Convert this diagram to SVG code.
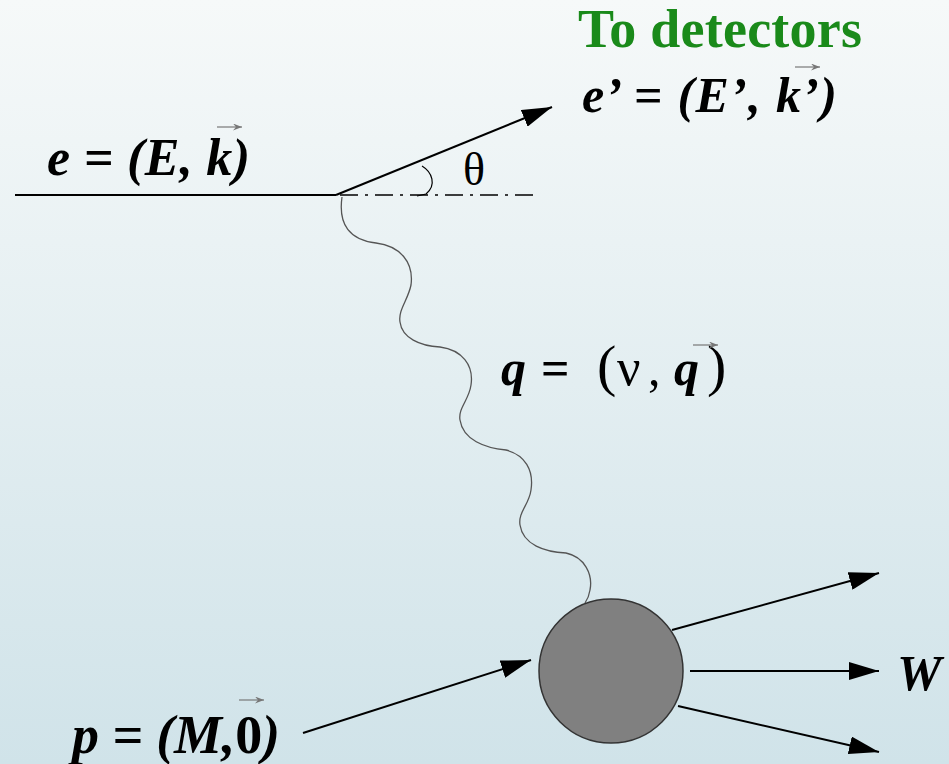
<svg xmlns="http://www.w3.org/2000/svg" width="949" height="764" viewBox="0 0 949 764">
<defs>
<linearGradient id="bg" x1="0" y1="0" x2="0" y2="1">
<stop offset="0" stop-color="#f6f9f9"/>
<stop offset="1" stop-color="#d0e3e9"/>
</linearGradient>
<marker id="big" viewBox="0 0 30 18" refX="30" refY="9" markerWidth="30" markerHeight="18" orient="auto" markerUnits="userSpaceOnUse">
<path d="M0,0 L30,9 L0,18 z" fill="#000"/>
</marker>
<marker id="vec" viewBox="0 0 9 7" refX="9" refY="3.5" markerWidth="9" markerHeight="7" orient="auto" markerUnits="userSpaceOnUse">
<path d="M0,0 L9,3.5 L0,7 L3,3.5 z" fill="#777"/>
</marker>
</defs>
<style>
text{font-family:"Liberation Serif","Times New Roman",Times,serif}
.lbl{font-weight:bold;font-style:italic;fill:#000}
.up{font-style:normal;font-weight:normal}
.line{stroke:#000;fill:none;stroke-width:2}
.vec{stroke:#777;stroke-width:1.2;fill:none}
</style>
<rect width="949" height="764" fill="url(#bg)"/>

<g id="connectors">
<line class="line" x1="15" y1="195" x2="336" y2="195"/>
<line x1="340" y1="195" x2="535" y2="195" stroke="#000" stroke-width="1.3" stroke-dasharray="18,7,3,7"/>
<line class="line" x1="336" y1="195" x2="552" y2="107" marker-end="url(#big)"/>
<path d="M422,166 C432,172 437,185 426,194 L417,196" fill="none" stroke="#000" stroke-width="1.2"/>
<path d="M342,197 C338,225 350,240 376,243 C400,246 414,262 411,285 C408,300 398,310 400,322 C402,338 420,346 440,347 C462,350 474,365 471,385 C469,400 458,408 460,420 C463,440 485,448 506,450 C525,455 534,470 531,490 C529,505 518,512 520,525 C523,545 545,552 566,553 C585,557 593,575 590,590 C589,597 587,600 585,603" fill="none" stroke="#555" stroke-width="1.3"/>
<line class="line" x1="303" y1="733" x2="531" y2="660" marker-end="url(#big)"/>
<line class="line" x1="672" y1="630" x2="879" y2="573" marker-end="url(#big)"/>
<line class="line" x1="690" y1="671" x2="879" y2="671" marker-end="url(#big)"/>
<line class="line" x1="678" y1="706" x2="879" y2="752" marker-end="url(#big)"/>
</g>

<g id="blob">
<circle cx="611" cy="671" r="72" fill="#808080" stroke="#333" stroke-width="1.5"/>
</g>

<g id="title">
<text x="578" y="47" font-weight="bold" font-size="54" fill="#1a8a1a" textLength="284">To detectors</text>
</g>

<g id="e-in">
<text class="lbl" x="47" y="175" font-size="52" textLength="203">e = (E, k)</text>
<line class="vec" x1="217" y1="127" x2="242" y2="127" marker-end="url(#vec)"/>
</g>

<g id="e-out">
<text class="lbl" x="582" y="112" font-size="50" textLength="255">e’ = (E’, k’)</text>
<line class="vec" x1="795" y1="67" x2="820" y2="67" marker-end="url(#vec)"/>
</g>

<g id="theta">
<text x="463" y="185" font-size="46" fill="#000">θ</text>
</g>

<g id="q-label">
<text class="lbl" y="385" font-size="50"><tspan x="501">q</tspan><tspan x="541" font-style="normal">=</tspan><tspan x="597" class="up" font-size="58">(</tspan><tspan x="617" class="up" font-size="52">ν</tspan><tspan x="648" class="up">,</tspan><tspan x="674">q</tspan><tspan x="707" class="up" font-size="58">)</tspan></text>
<line class="vec" x1="693" y1="345" x2="718" y2="345" marker-end="url(#vec)"/>
</g>

<g id="p-label">
<text class="lbl" x="72" y="753" font-size="54" textLength="208">p = (M,<tspan font-style="normal">0</tspan>)</text>
<line class="vec" x1="239" y1="700" x2="264" y2="700" marker-end="url(#vec)"/>
</g>

<g id="w-label">
<text class="lbl" x="897" y="690" font-size="50">W</text>
</g>
</svg>
